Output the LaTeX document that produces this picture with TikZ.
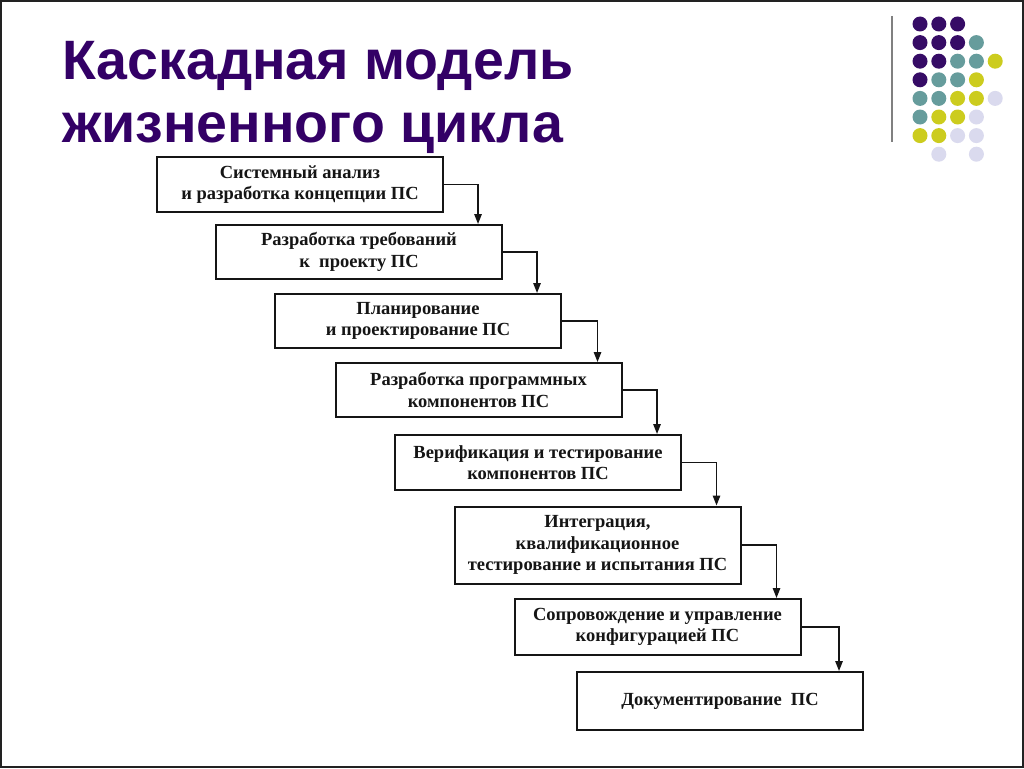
\documentclass[tikz,border=0pt]{standalone}
\usepackage{fontspec}
\setmainfont{Liberation Serif}
\newfontfamily\titlefont{Liberation Sans}
\usetikzlibrary{arrows.meta}
\definecolor{ttl}{HTML}{330066}
\definecolor{dpur}{HTML}{360C66}
\definecolor{dteal}{HTML}{669C9C}
\definecolor{dyel}{HTML}{CCCC1E}
\definecolor{dlav}{HTML}{DADAEE}
\definecolor{frame}{HTML}{222222}
\definecolor{ink}{HTML}{151515}
\tikzset{
  stagebox/.style={draw=ink, line width=2pt, minimum width=286pt, minimum height=55pt,
    align=center, inner sep=0pt, text=ink,
    font=\bfseries\fontsize{18.5}{21.5}\selectfont},
  flowarr/.style={draw=ink, line width=1.4pt, -{Triangle[length=10pt,width=7.5pt]}},
  titletext/.style={anchor=base west, inner sep=0pt, text=ttl,
    font=\titlefont\bfseries\fontsize{55.5}{55.5}\selectfont}
}
\begin{document}
\begin{tikzpicture}[x=1pt,y=-1pt]
\useasboundingbox (0,0) rectangle (1024,768);
\fill[white] (0,0) rectangle (1024,768);
\draw[frame, line width=2pt] (1,1) rectangle (1023,767);

% title
\node[titletext] (t1) at (62,79) {Каскадная модель};
\node[titletext] (t2) at (62,142) {жизненного цикла};

% decoration
\draw[gray, line width=1.5pt] (892,16) -- (892,142);
\foreach \c/\r/\col in {0/0/dpur,1/0/dpur,2/0/dpur,
  0/1/dpur,1/1/dpur,2/1/dpur,3/1/dteal,
  0/2/dpur,1/2/dpur,2/2/dteal,3/2/dteal,4/2/dyel,
  0/3/dpur,1/3/dteal,2/3/dteal,3/3/dyel,
  0/4/dteal,1/4/dteal,2/4/dyel,3/4/dyel,4/4/dlav,
  0/5/dteal,1/5/dyel,2/5/dyel,3/5/dlav,
  0/6/dyel,1/6/dyel,2/6/dlav,3/6/dlav,
  1/7/dlav,3/7/dlav}
  \fill[\col] ({920+\c*18.8},{24+\r*18.6}) circle (7.5pt);

% boxes
\node[stagebox] (b1) at (300,184.5) {Системный анализ\\и разработка концепции ПС};
\node[stagebox, minimum height=54pt] (b2) at (359,252) {Разработка требований\\к\ \ проекту ПС};
\node[stagebox, minimum height=54pt] (b3) at (418,321) {Планирование\\и проектирование ПС};
\node[stagebox, minimum height=54pt] (b4) at (478.5,390) {Разработка программных\\компонентов ПС};
\node[stagebox] (b5) at (538,462.5) {Верификация и тестирование\\компонентов ПС};
\node[stagebox, minimum height=77pt] (b6) at (597.5,545) {Интеграция,\\квалификационное\\тестирование и испытания ПС};
\node[stagebox, minimum height=56pt] (b7) at (657.5,627) {Сопровождение и управление\\конфигурацией ПС};
\node[stagebox, minimum height=58pt] (b8) at (720,701) {Документирование\ \ ПС};

% arrows
\foreach \a/\b in {b1/b2,b2/b3,b3/b4,b4/b5,b5/b6,b6/b7,b7/b8}
  \draw[flowarr] (\a.east) -| ([xshift=-25pt]\b.north east);
\end{tikzpicture}
\end{document}
